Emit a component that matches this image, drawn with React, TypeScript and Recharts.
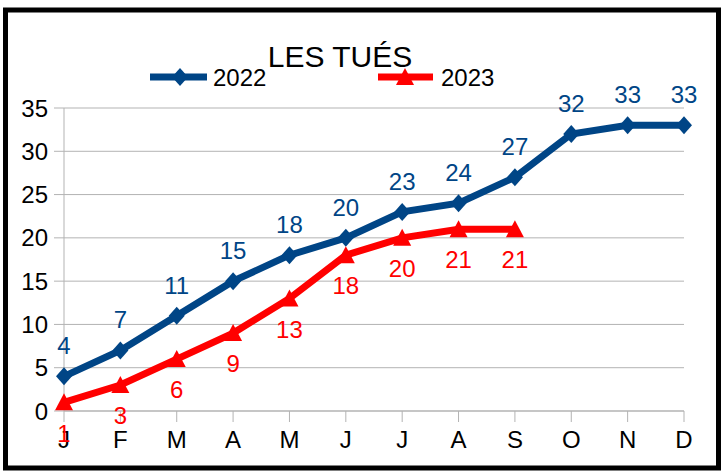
import React from "react";
import {
  LineChart,
  Line,
  XAxis,
  YAxis,
  CartesianGrid,
  LabelList,
} from "recharts";

const months: string[] = ["J", "F", "M", "A", "M", "J", "J", "A", "S", "O", "N", "D"];
const killed2022: number[] = [4, 7, 11, 15, 18, 20, 23, 24, 27, 32, 33, 33];
const killed2023: (number | null)[] = [1, 3, 6, 9, 13, 18, 20, 21, 21, null, null, null];
const yTicks: number[] = [0, 5, 10, 15, 20, 25, 30, 35];
const seriesNames: string[] = ["2022", "2023"];

const BLUE = "#004586";
const RED = "#ff0000";
const FONT = "'Liberation Sans', Arial, sans-serif";

const data = months.map((m, i) => ({
  month: m,
  y2022: killed2022[i],
  y2023: killed2023[i],
}));

const diamondPts = (cx: number, cy: number) =>
  `${cx},${cy - 9} ${cx + 8},${cy} ${cx},${cy + 9} ${cx - 8},${cy}`;
const trianglePts = (cx: number, cy: number) =>
  `${cx},${cy - 9} ${cx + 9},${cy + 8} ${cx - 9},${cy + 8}`;

const DiamondDot = (p: any) => {
  if (p.cx == null || p.cy == null || p.value == null) return <g key={p.index} />;
  return <polygon key={p.index} points={diamondPts(p.cx, p.cy)} fill={BLUE} />;
};

const TriangleDot = (p: any) => {
  if (p.cx == null || p.cy == null || p.value == null) return <g key={p.index} />;
  return <polygon key={p.index} points={trianglePts(p.cx, p.cy)} fill={RED} />;
};

const makeLabel = (color: string, above: boolean) => (p: any) => {
  if (p.value == null || p.x == null || p.y == null) return null;
  return (
    <text
      x={p.x}
      y={above ? p.y - 22 : p.y + 22}
      dy={above ? 0 : "0.72em"}
      textAnchor="middle"
      fill={color}
      fontSize={24}
      fontFamily={FONT}
    >
      {p.value}
    </text>
  );
};

export default function App() {
  return (
    <div
      style={{
        position: "absolute",
        left: 0,
        top: 0,
        width: 722,
        height: 471,
        background: "#fff",
        fontFamily: FONT,
      }}
    >
      <LineChart
        width={722}
        height={471}
        data={data}
        margin={{ top: 108, right: 38, bottom: 20, left: 8 }}
      >
        <CartesianGrid vertical={false} stroke="#b3b3b3" />
        <XAxis
          dataKey="month"
          height={40}
          tickSize={11}
          tickMargin={9}
          stroke="#b3b3b3"
          tick={{ fill: "#000", fontSize: 24, fontFamily: FONT }}
          interval={0}
        />
        <YAxis
          width={56}
          domain={[0, 35]}
          ticks={yTicks}
          tickSize={10}
          tickMargin={6}
          stroke="#b3b3b3"
          tick={{ fill: "#000", fontSize: 24, fontFamily: FONT }}
        />
        <Line
          dataKey="y2022"
          name={seriesNames[0]}
          stroke={BLUE}
          strokeWidth={7}
          dot={DiamondDot}
          activeDot={false}
          isAnimationActive={false}
          type="linear"
        >
          <LabelList dataKey="y2022" content={makeLabel(BLUE, true)} />
        </Line>
        <Line
          dataKey="y2023"
          name={seriesNames[1]}
          stroke={RED}
          strokeWidth={7}
          dot={TriangleDot}
          activeDot={false}
          isAnimationActive={false}
          type="linear"
        >
          <LabelList dataKey="y2023" content={makeLabel(RED, false)} />
        </Line>
      </LineChart>
      <svg
        width={722}
        height={471}
        style={{ position: "absolute", left: 0, top: 0, pointerEvents: "none" }}
      >
        <rect x={5.5} y={10} width={713} height={458} fill="none" stroke="#000" strokeWidth={5} />
        {/* legend */}
        <line x1={150} y1={77} x2={207} y2={77} stroke={BLUE} strokeWidth={7} />
        <polygon points={diamondPts(180, 77)} fill={BLUE} />
        <text x={213} y={86} fontSize={24} fontFamily={FONT} fill="#000">
          {seriesNames[0]}
        </text>
        <line x1={378} y1={77} x2={433} y2={77} stroke={RED} strokeWidth={7} />
        <polygon points={trianglePts(405, 77)} fill={RED} />
        <text x={441} y={86} fontSize={24} fontFamily={FONT} fill="#000">
          {seriesNames[1]}
        </text>
        {/* title */}
        <text x={340} y={67} textAnchor="middle" fontSize={30} fontFamily={FONT} fill="#000">
          LES TUÉS
        </text>
      </svg>
    </div>
  );
}
